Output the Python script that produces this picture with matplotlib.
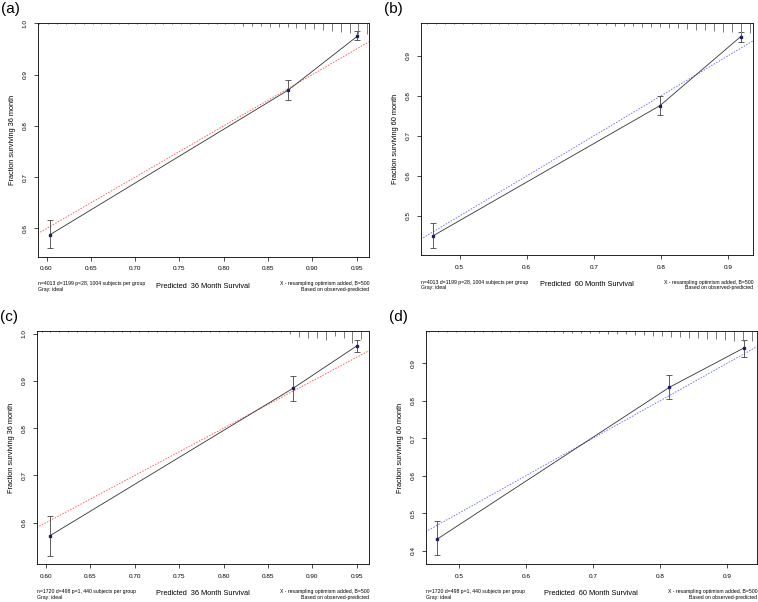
import numpy as np
import matplotlib
matplotlib.use("Agg")
import matplotlib.pyplot as plt

plt.rcParams['font.family'] = ['Liberation Sans', 'DejaVu Sans']

W, H = 758, 602

# calibration points: predicted, observed, lower, upper
a_pred = [0.604, 0.873, 0.951]
a_obs = [0.588, 0.870, 0.975]
a_lo = [0.562, 0.850, 0.967]
a_hi = [0.616, 0.889, 0.985]

b_pred = [0.461, 0.799, 0.919]
b_obs = [0.451, 0.776, 0.948]
b_lo = [0.421, 0.752, 0.934]
b_hi = [0.482, 0.801, 0.961]

c_pred = [0.604, 0.878, 0.950]
c_obs = [0.572, 0.884, 0.974]
c_lo = [0.530, 0.858, 0.960]
c_hi = [0.615, 0.911, 0.987]

d_pred = [0.468, 0.814, 0.925]
d_obs = [0.431, 0.836, 0.941]
d_lo = [0.388, 0.804, 0.918]
d_hi = [0.478, 0.869, 0.963]

# histogram of predictions drawn at the top (relative bar lengths)
a_rug = [3] * 23 + [8, 8, 9, 10, 11, 12, 14, 16, 17, 20, 22, 25, 28, 33, 33]
b_rug = [4] * 15 + [5, 5, 6, 6, 7, 8, 9, 10] + [11, 12, 13, 14, 16, 17, 19, 21, 23, 25, 27, 29, 30, 30]
c_rug = [3] * 28 + [10, 18, 22, 22, 28, 16, 22, 36, 25, 28]
d_rug = [4] * 14 + [5, 6, 6, 7, 7, 8, 9, 10] + [11, 12, 13, 15, 16, 18, 19, 21, 23, 24, 26, 28, 30, 30, 30]

top_info1 = "n=4013 d=1199 p=28, 1004 subjects per group"
bot_info1 = "n=1720 d=498 p=1, 440 subjects per group"

panels = [
    dict(lab="(a)", box=(37.7, 23.3, 369, 256.7), pred=a_pred, obs=a_obs, lo=a_lo, hi=a_hi,
         rug=a_rug, rug0=0.592, rugstep=0.01, xlim=(0.59, 0.964), ylim=(0.545, 1.0),
         xt=[0.60, 0.65, 0.70, 0.75, 0.80, 0.85, 0.90, 0.95], yt=[0.6, 0.7, 0.8, 0.9, 1.0],
         xfmt="%.2f", month="36", info=top_info1, ideal="#ff5a5a"),
    dict(lab="(b)", box=(420.7, 22.7, 753.3, 255), pred=b_pred, obs=b_obs, lo=b_lo, hi=b_hi,
         rug=b_rug, rug0=0.451, rugstep=0.0134, xlim=(0.442, 0.938), ylim=(0.4025, 0.983),
         xt=[0.5, 0.6, 0.7, 0.8, 0.9], yt=[0.5, 0.6, 0.7, 0.8, 0.9],
         xfmt="%.1f", month="60", info=top_info1, ideal="#6f6fff"),
    dict(lab="(c)", box=(36.7, 330.7, 369.3, 564.3), pred=c_pred, obs=c_obs, lo=c_lo, hi=c_hi,
         rug=c_rug, rug0=0.595, rugstep=0.01, xlim=(0.5895, 0.964), ylim=(0.512, 1.006),
         xt=[0.60, 0.65, 0.70, 0.75, 0.80, 0.85, 0.90, 0.95], yt=[0.6, 0.7, 0.8, 0.9, 1.0],
         xfmt="%.2f", month="36", info=bot_info1, ideal="#ff5a5a"),
    dict(lab="(d)", box=(425.7, 330.7, 757, 564.3), pred=d_pred, obs=d_obs, lo=d_lo, hi=d_hi,
         rug=d_rug, rug0=0.455, rugstep=0.0134, xlim=(0.4506, 0.9445), ylim=(0.3635, 0.987),
         xt=[0.5, 0.6, 0.7, 0.8, 0.9], yt=[0.4, 0.5, 0.6, 0.7, 0.8, 0.9],
         xfmt="%.1f", month="60", info=bot_info1, ideal="#6f6fff"),
]

fig = plt.figure(figsize=(W / 100, H / 100), dpi=100)

for p in panels:
    l, t, r, b = p["box"]
    ax = fig.add_axes([l / W, 1 - b / H, (r - l) / W, (b - t) / H])
    ax.set_xlim(*p["xlim"])
    ax.set_ylim(*p["ylim"])

    # ideal line
    x0, x1 = p["xlim"]
    ax.plot([x0, x1], [x0, x1], color=p["ideal"], ls=(0, (1.5, 1.5)), lw=0.7)

    # observed curve with error bars
    ax.plot(p["pred"], p["obs"], color="#333333", lw=0.6)
    yerr = [np.array(p["obs"]) - np.array(p["lo"]), np.array(p["hi"]) - np.array(p["obs"])]
    ax.errorbar(p["pred"], p["obs"], yerr=yerr, fmt="none", ecolor="#444444",
                elinewidth=0.6, capsize=2.2, capthick=0.6)
    ax.plot(p["pred"], p["obs"], ls="none", marker="s", ms=1.7, color="#1c1c6b")

    # top histogram
    rug = np.array(p["rug"], dtype=float)
    xs = p["rug0"] + p["rugstep"] * np.arange(len(rug))
    ax.vlines(xs, 1 - rug / 3 / (b - t), 1, transform=ax.get_xaxis_transform(),
              color="#7a7a7a", lw=0.7)

    ax.set_xticks(p["xt"])
    ax.set_xticklabels([p["xfmt"] % v for v in p["xt"]])
    ax.set_yticks(p["yt"])
    ax.set_yticklabels(["%.1f" % v for v in p["yt"]], rotation=90, va="center")
    ax.tick_params(length=3, width=0.5, pad=4, labelsize=4.6)
    for s in ax.spines.values():
        s.set_linewidth(0.6)

    ax.set_xlabel("Predicted  %s Month Survival" % p["month"], fontsize=5.3, labelpad=8)
    ax.set_ylabel("Fraction surviving %s month" % p["month"], fontsize=5.3, labelpad=5)

    fig.text(l / W, 1 - (b + 30) / H, p["info"] + "\nGray: ideal", fontsize=3.7,
             ha="left", va="center", linespacing=1.1)
    fig.text(r / W, 1 - (b + 30) / H,
             "X - resampling optimism added, B=500\nBased on observed-predicted",
             fontsize=3.7, ha="right", va="center", linespacing=1.1, multialignment="right")
    fig.text((l - 37) / W, 1 - (t - 14) / H, p["lab"], fontsize=11, ha="left", va="center")

fig.savefig("out.png", dpi=100)
